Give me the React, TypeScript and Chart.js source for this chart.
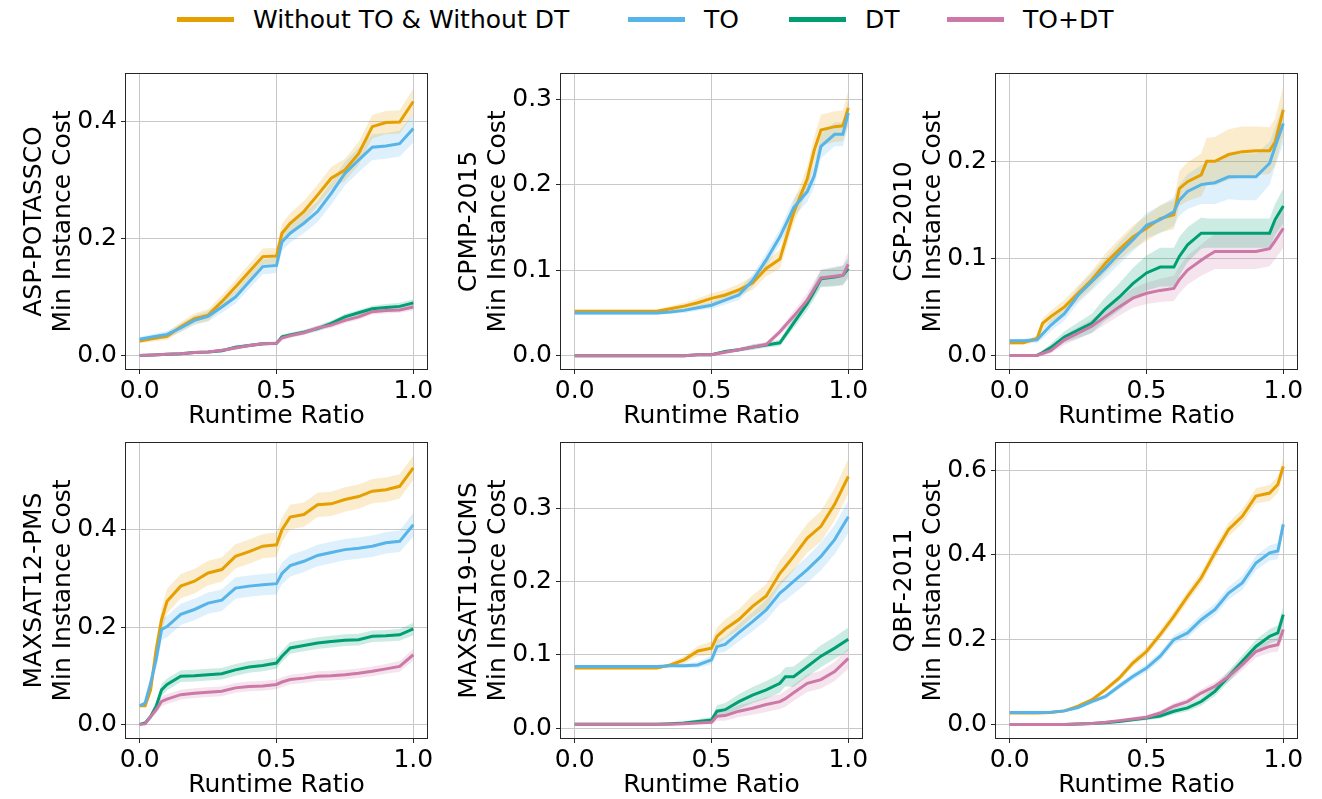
import React, { useEffect, useRef } from 'react';
import { Chart, registerables } from 'chart.js';

Chart.register(...registerables);

// ---------- series meta ----------
const seriesNames = ['Without TO & Without DT', 'TO', 'DT', 'TO+DT'];
const seriesColors = ['#E69F00', '#56B4E9', '#009E73', '#CC79A7'];
const bandColors = ['rgba(230,159,0,0.2)', 'rgba(86,180,233,0.2)', 'rgba(0,158,115,0.2)', 'rgba(204,121,167,0.2)'];
const xTicks = [0, 0.5, 1.0];
const xTitle = 'Runtime Ratio';
const yTitleSuffix = 'Min Instance Cost';

// ---------- ASP-POTASSCO ----------
const aspX = [0, 0.05, 0.1, 0.15, 0.2, 0.25, 0.3, 0.35, 0.4, 0.45, 0.5, 0.52, 0.55, 0.6, 0.65, 0.7, 0.75, 0.8, 0.85, 0.9, 0.95, 1.0];
const aspBase = [0.025, 0.029, 0.033, 0.049, 0.063, 0.069, 0.092, 0.117, 0.143, 0.169, 0.17, 0.209, 0.226, 0.246, 0.274, 0.303, 0.317, 0.345, 0.391, 0.398, 0.399, 0.434];
const aspTO = [0.028, 0.032, 0.036, 0.047, 0.06, 0.067, 0.083, 0.1, 0.126, 0.152, 0.154, 0.194, 0.209, 0.226, 0.246, 0.277, 0.311, 0.334, 0.356, 0.358, 0.362, 0.388];
const aspDT = [0, 0.001, 0.002, 0.003, 0.005, 0.006, 0.008, 0.014, 0.017, 0.02, 0.021, 0.032, 0.035, 0.04, 0.046, 0.055, 0.066, 0.073, 0.08, 0.082, 0.084, 0.09];
const aspTODT = [0, 0.001, 0.002, 0.003, 0.005, 0.006, 0.009, 0.013, 0.017, 0.02, 0.021, 0.03, 0.034, 0.039, 0.047, 0.052, 0.06, 0.066, 0.075, 0.077, 0.078, 0.083];
const aspBaseSd = [0.004, 0.005, 0.006, 0.008, 0.009, 0.01, 0.011, 0.012, 0.013, 0.014, 0.014, 0.016, 0.017, 0.018, 0.018, 0.019, 0.019, 0.02, 0.02, 0.02, 0.02, 0.022];
const aspTOSd = [0.004, 0.005, 0.006, 0.007, 0.008, 0.009, 0.01, 0.011, 0.012, 0.013, 0.013, 0.015, 0.016, 0.017, 0.018, 0.019, 0.02, 0.021, 0.022, 0.022, 0.022, 0.024];
const aspDTSd = [0, 0.001, 0.001, 0.002, 0.002, 0.002, 0.003, 0.003, 0.003, 0.003, 0.003, 0.004, 0.004, 0.004, 0.005, 0.005, 0.005, 0.005, 0.005, 0.006, 0.006, 0.006];
const aspTODTSd = [0, 0.001, 0.001, 0.002, 0.002, 0.002, 0.003, 0.003, 0.003, 0.003, 0.003, 0.004, 0.004, 0.004, 0.004, 0.005, 0.005, 0.005, 0.005, 0.005, 0.005, 0.006];

// ---------- CPMP-2015 ----------
const cpmpX = [0, 0.1, 0.2, 0.3, 0.35, 0.4, 0.45, 0.5, 0.55, 0.6, 0.65, 0.7, 0.75, 0.8, 0.85, 0.875, 0.9, 0.95, 0.98, 1.0];
const cpmpBase = [0.052, 0.052, 0.052, 0.052, 0.055, 0.058, 0.062, 0.067, 0.071, 0.077, 0.085, 0.102, 0.113, 0.167, 0.207, 0.24, 0.264, 0.268, 0.269, 0.29];
const cpmpTO = [0.05, 0.05, 0.05, 0.05, 0.051, 0.053, 0.056, 0.059, 0.065, 0.071, 0.088, 0.112, 0.139, 0.173, 0.192, 0.21, 0.245, 0.259, 0.259, 0.284];
const cpmpDT = [0, 0, 0, 0, 0, 0, 0.001, 0.001, 0.005, 0.007, 0.01, 0.0125, 0.015, 0.038, 0.061, 0.075, 0.09, 0.092, 0.094, 0.102];
const cpmpTODT = [0, 0, 0, 0, 0, 0, 0.001, 0.001, 0.004, 0.007, 0.01, 0.013, 0.028, 0.046, 0.065, 0.078, 0.091, 0.093, 0.094, 0.107];
const cpmpBaseSd = [0.002, 0.002, 0.002, 0.002, 0.003, 0.004, 0.005, 0.006, 0.006, 0.007, 0.008, 0.009, 0.011, 0.013, 0.014, 0.016, 0.018, 0.018, 0.018, 0.02];
const cpmpTOSd = [0.002, 0.002, 0.002, 0.002, 0.002, 0.003, 0.003, 0.004, 0.005, 0.006, 0.007, 0.008, 0.009, 0.011, 0.012, 0.013, 0.014, 0.014, 0.014, 0.015];
const cpmpDTSd = [0, 0, 0, 0, 0, 0, 0, 0.001, 0.002, 0.002, 0.003, 0.003, 0.004, 0.006, 0.008, 0.009, 0.01, 0.011, 0.011, 0.012];
const cpmpTODTSd = [0, 0, 0, 0, 0, 0, 0, 0.001, 0.002, 0.002, 0.003, 0.003, 0.004, 0.006, 0.008, 0.009, 0.01, 0.011, 0.012, 0.014];

// ---------- CSP-2010 ----------
const cspX = [0, 0.05, 0.1, 0.12, 0.15, 0.2, 0.25, 0.3, 0.35, 0.4, 0.45, 0.5, 0.55, 0.6, 0.62, 0.65, 0.7, 0.72, 0.75, 0.8, 0.85, 0.9, 0.95, 0.97, 1.0];
const cspBase = [0.013, 0.013, 0.0175, 0.033, 0.04, 0.05, 0.064, 0.078, 0.095, 0.109, 0.122, 0.131, 0.141, 0.145, 0.172, 0.179, 0.186, 0.2, 0.2, 0.207, 0.21, 0.211, 0.211, 0.22, 0.253];
const cspTO = [0.015, 0.015, 0.016, 0.022, 0.031, 0.043, 0.062, 0.076, 0.09, 0.105, 0.119, 0.134, 0.14, 0.148, 0.16, 0.169, 0.176, 0.177, 0.178, 0.184, 0.184, 0.184, 0.198, 0.215, 0.239];
const cspDT = [0, 0, 0, 0.003, 0.008, 0.019, 0.026, 0.033, 0.048, 0.06, 0.074, 0.085, 0.091, 0.091, 0.102, 0.114, 0.126, 0.126, 0.126, 0.126, 0.126, 0.126, 0.126, 0.14, 0.154];
const cspTODT = [0, 0, 0, 0.002, 0.005, 0.016, 0.023, 0.03, 0.04, 0.05, 0.059, 0.064, 0.067, 0.069, 0.078, 0.088, 0.098, 0.102, 0.107, 0.107, 0.107, 0.107, 0.11, 0.118, 0.131];
const cspBaseSd = [0.002, 0.002, 0.003, 0.005, 0.006, 0.007, 0.008, 0.009, 0.01, 0.011, 0.012, 0.013, 0.014, 0.015, 0.018, 0.02, 0.022, 0.024, 0.025, 0.026, 0.026, 0.025, 0.024, 0.024, 0.025];
const cspTOSd = [0.002, 0.002, 0.003, 0.005, 0.006, 0.007, 0.008, 0.009, 0.01, 0.011, 0.012, 0.013, 0.014, 0.015, 0.016, 0.018, 0.02, 0.021, 0.022, 0.023, 0.024, 0.024, 0.022, 0.02, 0.02];
const cspDTSd = [0, 0, 0, 0.002, 0.004, 0.006, 0.008, 0.01, 0.012, 0.014, 0.016, 0.018, 0.02, 0.02, 0.02, 0.018, 0.016, 0.015, 0.015, 0.015, 0.015, 0.015, 0.015, 0.016, 0.018];
const cspTODTSd = [0, 0, 0, 0.002, 0.003, 0.005, 0.006, 0.007, 0.008, 0.009, 0.01, 0.011, 0.012, 0.013, 0.014, 0.015, 0.016, 0.017, 0.018, 0.018, 0.018, 0.018, 0.018, 0.019, 0.02];

// ---------- MAXSAT12-PMS ----------
const ms12X = [0, 0.02, 0.04, 0.06, 0.08, 0.1, 0.15, 0.2, 0.25, 0.3, 0.35, 0.4, 0.45, 0.5, 0.52, 0.55, 0.6, 0.65, 0.7, 0.75, 0.8, 0.85, 0.9, 0.95, 1.0];
const ms12Base = [0.038, 0.038, 0.071, 0.153, 0.215, 0.253, 0.284, 0.294, 0.311, 0.318, 0.345, 0.355, 0.366, 0.369, 0.4, 0.426, 0.431, 0.451, 0.453, 0.462, 0.468, 0.479, 0.482, 0.489, 0.527];
const ms12TO = [0.038, 0.044, 0.085, 0.133, 0.195, 0.201, 0.226, 0.236, 0.249, 0.255, 0.28, 0.284, 0.287, 0.289, 0.31, 0.326, 0.335, 0.347, 0.353, 0.359, 0.362, 0.366, 0.373, 0.376, 0.41];
const ms12DT = [0, 0.003, 0.016, 0.037, 0.071, 0.082, 0.099, 0.1, 0.102, 0.104, 0.112, 0.118, 0.121, 0.126, 0.14, 0.157, 0.162, 0.167, 0.17, 0.173, 0.174, 0.181, 0.182, 0.184, 0.196];
const ms12TODT = [0, 0.001, 0.016, 0.03, 0.047, 0.052, 0.061, 0.064, 0.066, 0.068, 0.075, 0.078, 0.079, 0.082, 0.087, 0.092, 0.095, 0.099, 0.1, 0.102, 0.105, 0.109, 0.114, 0.119, 0.143];
const ms12BaseSd = [0.003, 0.003, 0.01, 0.02, 0.024, 0.025, 0.025, 0.025, 0.025, 0.025, 0.025, 0.025, 0.025, 0.025, 0.025, 0.025, 0.025, 0.025, 0.025, 0.025, 0.025, 0.025, 0.025, 0.025, 0.025];
const ms12TOSd = [0.003, 0.003, 0.01, 0.018, 0.022, 0.022, 0.022, 0.022, 0.022, 0.022, 0.022, 0.022, 0.022, 0.022, 0.022, 0.022, 0.022, 0.022, 0.022, 0.022, 0.022, 0.022, 0.022, 0.022, 0.024];
const ms12DTSd = [0, 0.002, 0.006, 0.01, 0.012, 0.012, 0.012, 0.012, 0.012, 0.012, 0.012, 0.012, 0.012, 0.012, 0.012, 0.012, 0.012, 0.012, 0.012, 0.012, 0.012, 0.012, 0.012, 0.012, 0.013];
const ms12TODTSd = [0, 0.002, 0.005, 0.008, 0.01, 0.01, 0.01, 0.01, 0.01, 0.01, 0.01, 0.01, 0.01, 0.01, 0.01, 0.01, 0.01, 0.01, 0.01, 0.01, 0.01, 0.01, 0.01, 0.011, 0.012];

// ---------- MAXSAT19-UCMS ----------
const ms19X = [0, 0.1, 0.2, 0.3, 0.35, 0.4, 0.45, 0.5, 0.52, 0.55, 0.6, 0.65, 0.7, 0.75, 0.77, 0.8, 0.85, 0.9, 0.95, 1.0];
const ms19Base = [0.082, 0.082, 0.082, 0.082, 0.086, 0.093, 0.105, 0.109, 0.125, 0.135, 0.148, 0.166, 0.18, 0.211, 0.22, 0.234, 0.259, 0.275, 0.305, 0.343];
const ms19TO = [0.084, 0.084, 0.084, 0.084, 0.085, 0.085, 0.086, 0.093, 0.111, 0.114, 0.13, 0.145, 0.161, 0.184, 0.19, 0.2, 0.216, 0.234, 0.257, 0.288];
const ms19DT = [0.005, 0.005, 0.005, 0.005, 0.006, 0.007, 0.009, 0.011, 0.023, 0.025, 0.036, 0.045, 0.052, 0.061, 0.07, 0.07, 0.084, 0.098, 0.109, 0.121];
const ms19TODT = [0.005, 0.005, 0.005, 0.005, 0.005, 0.006, 0.007, 0.008, 0.016, 0.017, 0.023, 0.027, 0.032, 0.036, 0.04, 0.048, 0.061, 0.066, 0.077, 0.095];
const ms19BaseSd = [0.001, 0.001, 0.001, 0.001, 0.003, 0.005, 0.007, 0.009, 0.012, 0.013, 0.014, 0.015, 0.016, 0.017, 0.018, 0.019, 0.02, 0.021, 0.022, 0.024];
const ms19TOSd = [0.001, 0.001, 0.001, 0.001, 0.002, 0.003, 0.004, 0.006, 0.009, 0.01, 0.012, 0.013, 0.014, 0.015, 0.016, 0.017, 0.018, 0.019, 0.02, 0.022];
const ms19DTSd = [0, 0, 0, 0, 0.001, 0.002, 0.003, 0.004, 0.008, 0.009, 0.01, 0.011, 0.012, 0.013, 0.013, 0.014, 0.014, 0.015, 0.015, 0.016];
const ms19TODTSd = [0, 0, 0, 0, 0.001, 0.001, 0.002, 0.003, 0.006, 0.007, 0.008, 0.009, 0.01, 0.01, 0.011, 0.011, 0.012, 0.012, 0.013, 0.014];

// ---------- QBF-2011 ----------
const qbfX = [0, 0.1, 0.15, 0.2, 0.25, 0.3, 0.35, 0.4, 0.45, 0.5, 0.55, 0.6, 0.65, 0.7, 0.75, 0.8, 0.85, 0.9, 0.95, 0.98, 1.0];
const qbfBase = [0.027, 0.027, 0.028, 0.032, 0.043, 0.058, 0.082, 0.109, 0.145, 0.172, 0.212, 0.255, 0.302, 0.346, 0.405, 0.46, 0.491, 0.539, 0.546, 0.566, 0.609];
const qbfTO = [0.028, 0.028, 0.029, 0.032, 0.04, 0.054, 0.066, 0.09, 0.113, 0.133, 0.161, 0.2, 0.216, 0.247, 0.271, 0.31, 0.334, 0.381, 0.405, 0.409, 0.472];
const qbfDT = [0, 0, 0, 0, 0.001, 0.002, 0.004, 0.007, 0.011, 0.015, 0.02, 0.031, 0.039, 0.054, 0.078, 0.113, 0.149, 0.184, 0.208, 0.216, 0.259];
const qbfTODT = [0, 0, 0, 0, 0.001, 0.002, 0.005, 0.009, 0.013, 0.017, 0.027, 0.043, 0.054, 0.074, 0.09, 0.113, 0.141, 0.172, 0.184, 0.188, 0.224];
const qbfBaseSd = [0.001, 0.001, 0.002, 0.003, 0.004, 0.005, 0.006, 0.007, 0.009, 0.01, 0.011, 0.012, 0.013, 0.014, 0.015, 0.016, 0.017, 0.018, 0.019, 0.02, 0.02];
const qbfTOSd = [0.001, 0.001, 0.002, 0.003, 0.004, 0.005, 0.006, 0.007, 0.008, 0.009, 0.01, 0.011, 0.012, 0.013, 0.014, 0.015, 0.016, 0.017, 0.018, 0.019, 0.02];
const qbfDTSd = [0, 0, 0, 0, 0, 0.001, 0.002, 0.003, 0.004, 0.005, 0.006, 0.007, 0.008, 0.01, 0.011, 0.013, 0.014, 0.016, 0.017, 0.018, 0.02];
const qbfTODTSd = [0, 0, 0, 0, 0, 0.001, 0.002, 0.003, 0.004, 0.005, 0.006, 0.007, 0.008, 0.009, 0.01, 0.012, 0.013, 0.014, 0.015, 0.016, 0.018];

// ---------- panels ----------
const panels = [
  { name: 'ASP-POTASSCO', x: aspX, means: [aspBase, aspTO, aspDT, aspTODT], sds: [aspBaseSd, aspTOSd, aspDTSd, aspTODTSd], yMin: -0.023, yMax: 0.481, yTicks: [0, 0.2, 0.4], col: 0, row: 0 },
  { name: 'CPMP-2015', x: cpmpX, means: [cpmpBase, cpmpTO, cpmpDT, cpmpTODT], sds: [cpmpBaseSd, cpmpTOSd, cpmpDTSd, cpmpTODTSd], yMin: -0.0156, yMax: 0.3296, yTicks: [0, 0.1, 0.2, 0.3], col: 1, row: 0 },
  { name: 'CSP-2010', x: cspX, means: [cspBase, cspTO, cspDT, cspTODT], sds: [cspBaseSd, cspTOSd, cspDTSd, cspTODTSd], yMin: -0.014, yMax: 0.29, yTicks: [0, 0.1, 0.2], col: 2, row: 0 },
  { name: 'MAXSAT12-PMS', x: ms12X, means: [ms12Base, ms12TO, ms12DT, ms12TODT], sds: [ms12BaseSd, ms12TOSd, ms12DTSd, ms12TODTSd], yMin: -0.028, yMax: 0.578, yTicks: [0, 0.2, 0.4], col: 0, row: 1 },
  { name: 'MAXSAT19-UCMS', x: ms19X, means: [ms19Base, ms19TO, ms19DT, ms19TODT], sds: [ms19BaseSd, ms19TOSd, ms19DTSd, ms19TODTSd], yMin: -0.0136, yMax: 0.3887, yTicks: [0, 0.1, 0.2, 0.3], col: 1, row: 1 },
  { name: 'QBF-2011', x: qbfX, means: [qbfBase, qbfTO, qbfDT, qbfTODT], sds: [qbfBaseSd, qbfTOSd, qbfDTSd, qbfTODTSd], yMin: -0.032, yMax: 0.664, yTicks: [0, 0.2, 0.4, 0.6], col: 2, row: 1 },
];

// ---------- layout ----------
const FONT = 'DejaVu Sans';
const colLeft = [126, 561, 996];
const rowTop = [74, 443];
const plotW = 301;
const plotH = 295;
const axisW = 126;
const axisH = 65;
const padTop = 20;
const padRight = 20;

const boxPlugin = {
  id: 'boxFrame',
  afterDraw(chart: any) {
    const { ctx, chartArea } = chart;
    const { left, top, right, bottom } = chartArea;
    ctx.save();
    ctx.strokeStyle = '#262626';
    ctx.lineWidth = 1;
    ctx.strokeRect(Math.round(left) - 0.5, Math.round(top) - 0.5, Math.round(right - left) + 1, Math.round(bottom - top) + 1);
    ctx.restore();
  },
};

function Panel({ p }: { p: any }) {
  const ref = useRef<HTMLCanvasElement | null>(null);
  useEffect(() => {
    if (!ref.current) return;
    const datasets: any[] = [];
    p.means.forEach((m: number[], s: number) => {
      const sd = p.sds[s];
      datasets.push({
        label: seriesNames[s] + ' upper',
        data: p.x.map((xv: number, i: number) => ({ x: xv, y: m[i] + sd[i] })),
        borderWidth: 0,
        borderColor: 'rgba(0,0,0,0)',
        pointRadius: 0,
        fill: false,
        order: 10 + s,
      });
      datasets.push({
        label: seriesNames[s] + ' lower',
        data: p.x.map((xv: number, i: number) => ({ x: xv, y: m[i] - sd[i] })),
        borderWidth: 0,
        borderColor: 'rgba(0,0,0,0)',
        backgroundColor: bandColors[s],
        pointRadius: 0,
        fill: '-1',
        order: 10 + s,
      });
    });
    p.means.forEach((m: number[], s: number) => {
      datasets.push({
        label: seriesNames[s],
        data: p.x.map((xv: number, i: number) => ({ x: xv, y: m[i] })),
        borderColor: seriesColors[s],
        borderWidth: 3,
        pointRadius: 0,
        fill: false,
        tension: 0,
        order: 3 - s,
      });
    });

    const chart = new Chart(ref.current, {
      type: 'line',
      data: { datasets },
      plugins: [boxPlugin],
      options: {
        animation: false,
        responsive: false,
        events: [],
        layout: { padding: { top: padTop, right: padRight, left: 0, bottom: 0 } },
        plugins: { legend: { display: false }, tooltip: { enabled: false } },
        scales: {
          x: {
            type: 'linear',
            min: -0.05,
            max: 1.05,
            afterBuildTicks: (s: any) => { s.ticks = xTicks.map((v) => ({ value: v })); },
            afterFit: (s: any) => { s.height = axisH; },
            ticks: {
              callback: (v: any) => Number(v).toFixed(1),
              font: { family: FONT, size: 25 },
              color: '#000',
              padding: 2,
              maxRotation: 0,
              autoSkip: false,
            },
            grid: { color: '#c8c8c8', lineWidth: 1, tickColor: '#262626', tickLength: 5, drawTicks: true },
            border: { display: false },
            title: {
              display: true,
              text: xTitle,
              font: { family: FONT, size: 25, lineHeight: 1.2 },
              color: '#000',
              padding: { top: 0, bottom: 3 },
            },
          },
          y: {
            type: 'linear',
            min: p.yMin,
            max: p.yMax,
            afterBuildTicks: (s: any) => { s.ticks = p.yTicks.map((v: number) => ({ value: v })); },
            afterFit: (s: any) => { s.width = axisW; },
            ticks: {
              callback: (v: any) => Number(v).toFixed(1),
              font: { family: FONT, size: 25 },
              color: '#000',
              padding: 4,
              autoSkip: false,
            },
            grid: { color: '#c8c8c8', lineWidth: 1, tickColor: '#262626', tickLength: 5, drawTicks: true },
            border: { display: false },
            title: {
              display: true,
              text: [p.name, yTitleSuffix],
              font: { family: FONT, size: 25, lineHeight: 1.16 },
              color: '#000',
              padding: { top: 20, bottom: 0 },
            },
          },
        },
      },
    } as any);
    return () => chart.destroy();
  }, [p]);

  const left = colLeft[p.col] - axisW;
  const top = rowTop[p.row] - padTop;
  const w = axisW + plotW + padRight;
  const h = padTop + plotH + axisH;
  return (
    <div style={{ position: 'absolute', left, top, width: w, height: h }}>
      <canvas ref={ref} width={w} height={h} style={{ display: 'block', width: w, height: h }} />
    </div>
  );
}

const legendHandleLeft = [177, 628, 789, 947];

function Legend() {
  return (
    <>
      {seriesNames.map((n, i) => (
        <React.Fragment key={n}>
          <div style={{ position: 'absolute', left: legendHandleLeft[i], top: 17, width: 57, height: 5, background: seriesColors[i] }} />
          <div
            style={{
              position: 'absolute',
              left: legendHandleLeft[i] + 76,
              top: 5,
              fontFamily: FONT,
              fontSize: 25,
              lineHeight: '30px',
              color: '#000',
              whiteSpace: 'nowrap',
            }}
          >
            {n}
          </div>
        </React.Fragment>
      ))}
    </>
  );
}

export default function App() {
  return (
    <div style={{ position: 'absolute', left: 0, top: 0, width: 1322, height: 799, overflow: 'hidden', background: '#fff' }}>
      <Legend />
      {panels.map((p) => (
        <Panel key={p.name} p={p} />
      ))}
    </div>
  );
}
